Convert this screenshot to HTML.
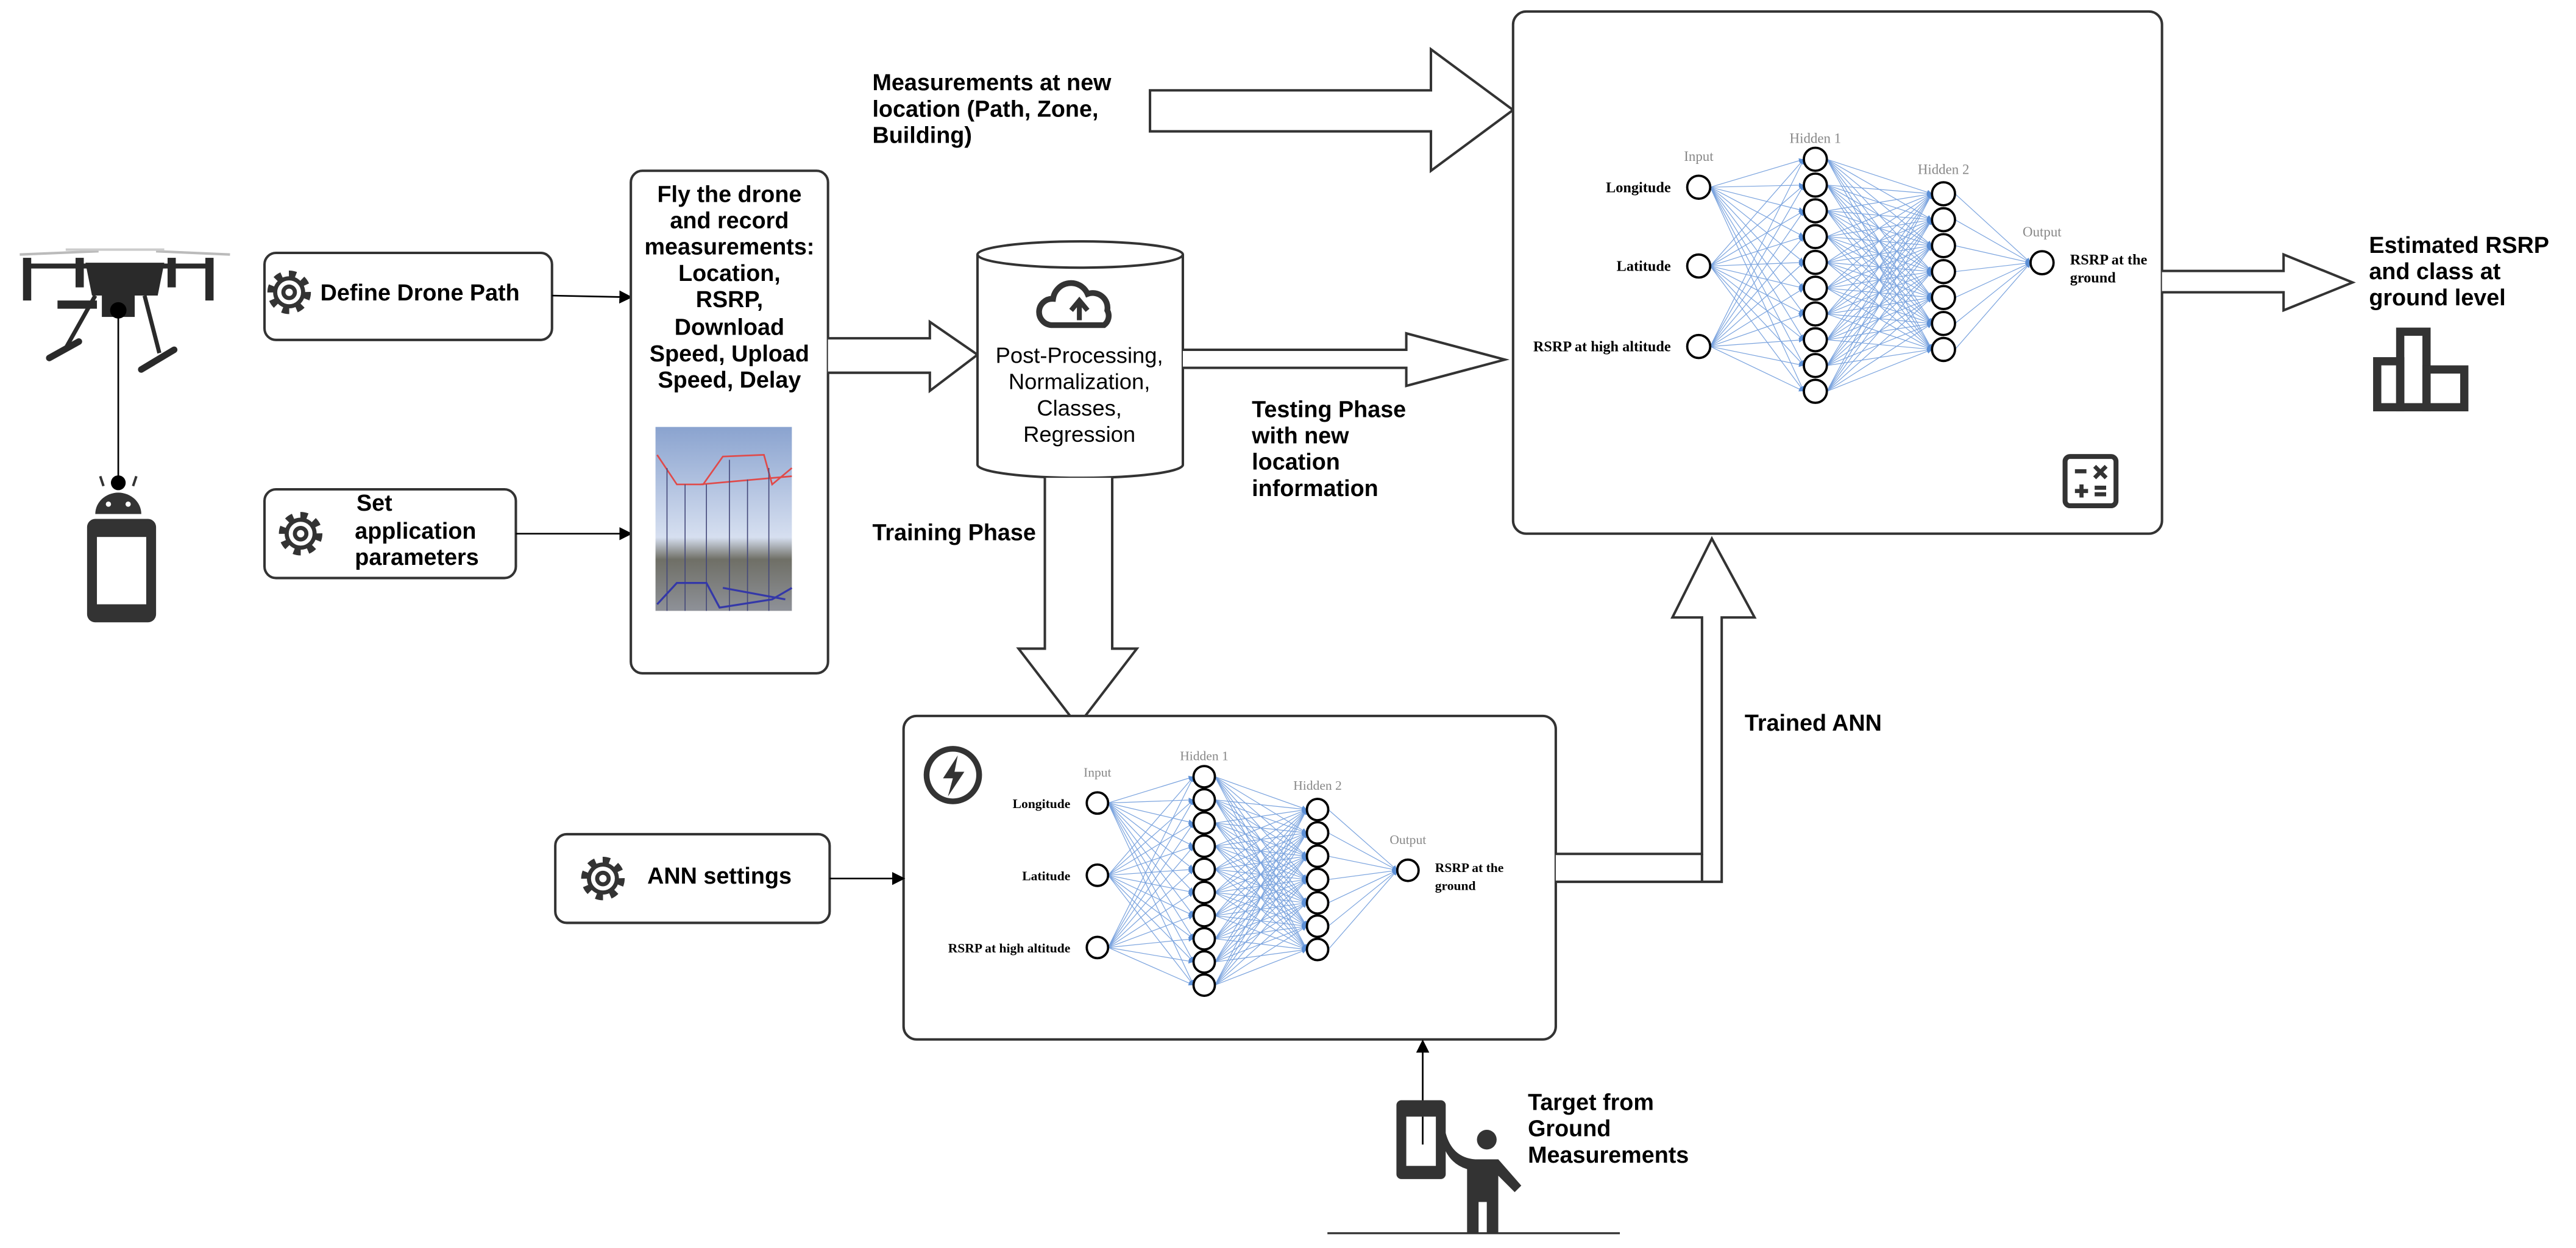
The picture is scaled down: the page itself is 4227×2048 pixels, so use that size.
<!DOCTYPE html>
<html><head><meta charset="utf-8"><style>
html,body{margin:0;padding:0;background:#fff;}
svg{display:block;}
.b{font-family:"Liberation Sans",sans-serif;font-weight:bold;fill:#000;}
.n{font-family:"Liberation Sans",sans-serif;fill:#000;}
</style></head><body>
<svg id="svg" width="4227" height="2048" viewBox="0 0 1568 760" preserveAspectRatio="none" xmlns="http://www.w3.org/2000/svg">
<defs>
<marker id="ah" markerWidth="8" markerHeight="8" refX="7" refY="4" orient="auto" markerUnits="userSpaceOnUse"><path d="M0,0 L8,4 L0,8 z" fill="#000"/></marker>
<marker id="bh" markerWidth="3" markerHeight="3" refX="3" refY="1.5" orient="auto" markerUnits="userSpaceOnUse"><path d="M0,0 L3,1.5 L0,3 z" fill="#5b8fd6"/></marker>
<linearGradient id="sky" x1="0" y1="0" x2="0" y2="1"><stop offset="0" stop-color="#8aa3cf"/><stop offset="0.6" stop-color="#d6dff0"/><stop offset="0.72" stop-color="#6f6f66"/><stop offset="1" stop-color="#8e9198"/></linearGradient>
<g id="gear"><circle r="11" fill="none" stroke="#333" stroke-width="4.5" stroke-dasharray="4.2 4.4"/><circle r="8.5" fill="#fff" stroke="#333" stroke-width="2.5"/><circle r="3.5" fill="none" stroke="#333" stroke-width="2.5"/></g>
</defs>

<!-- drone -->
<g fill="#2a2a2a" stroke="#2a2a2a">
<line x1="12" y1="155" x2="60" y2="153" stroke="#bbb" stroke-width="1.5"/>
<line x1="95" y1="153" x2="140" y2="155" stroke="#bbb" stroke-width="1.5"/>
<line x1="40" y1="152" x2="100" y2="152" stroke="#ccc" stroke-width="1.5"/>
<rect x="14" y="157" width="5" height="26" stroke="none"/>
<rect x="125" y="157" width="5" height="26" stroke="none"/>
<rect x="46" y="157" width="5" height="18" stroke="none"/>
<rect x="102" y="157" width="5" height="18" stroke="none"/>
<line x1="16" y1="162" x2="128" y2="162" stroke-width="3"/>
<path d="M52,160 L100,160 L96,180 L56,180 z" stroke="none"/>
<rect x="62" y="178" width="20" height="15" stroke="none"/>
<rect x="35" y="183" width="24" height="5" stroke="none"/>
<line x1="58" y1="180" x2="40" y2="212" stroke-width="2.5"/>
<line x1="88" y1="180" x2="97" y2="215" stroke-width="2.5"/>
<line x1="30" y1="218" x2="48" y2="208" stroke-width="4" stroke-linecap="round"/>
<line x1="86" y1="225" x2="106" y2="213" stroke-width="4" stroke-linecap="round"/>
<circle cx="72" cy="189" r="5" stroke="none" fill="#000"/>
</g>
<line x1="72" y1="192" x2="72" y2="295" stroke="#000" stroke-width="1"/>
<!-- android phone -->
<circle cx="72" cy="294" r="4.5" fill="#000"/>
<path d="M58,313 a14,13 0 0 1 28,0 z" fill="#333"/>
<line x1="63" y1="296" x2="61" y2="290" stroke="#333" stroke-width="1.5"/>
<line x1="81" y1="296" x2="83" y2="290" stroke="#333" stroke-width="1.5"/>
<circle cx="66" cy="307" r="1.6" fill="#fff"/><circle cx="78" cy="307" r="1.6" fill="#fff"/>
<rect x="53" y="316" width="42" height="63" rx="5" fill="#333"/>
<rect x="59" y="327" width="30" height="41" fill="#fff"/>

<!-- Define Drone Path -->
<rect x="161" y="154" width="175" height="53" rx="7" fill="#fff" stroke="#333" stroke-width="1.5"/>
<use href="#gear" x="176" y="178"/>
<text x="195" y="183" class="b" font-size="14">Define Drone Path</text>
<line x1="336" y1="180" x2="384" y2="181" stroke="#000" stroke-width="1" marker-end="url(#ah)"/>

<!-- Set app params -->
<rect x="161" y="298" width="153" height="54" rx="7" fill="#fff" stroke="#333" stroke-width="1.5"/>
<use href="#gear" x="183" y="325"/>
<text class="b" font-size="14"><tspan x="217" y="311">Set</tspan><tspan x="216" y="328">application</tspan><tspan x="216" y="344">parameters</tspan></text>
<line x1="314" y1="325" x2="384" y2="325" stroke="#000" stroke-width="1" marker-end="url(#ah)"/>

<!-- Fly box -->
<rect x="384" y="104" width="120" height="306" rx="7" fill="#fff" stroke="#333" stroke-width="1.5"/>
<text class="b" font-size="14" text-anchor="middle"><tspan x="444" y="123">Fly the drone</tspan><tspan x="444" y="139">and record</tspan><tspan x="444" y="155">measurements:</tspan><tspan x="444" y="171">Location,</tspan><tspan x="444" y="187">RSRP,</tspan><tspan x="444" y="204">Download</tspan><tspan x="444" y="220">Speed, Upload</tspan><tspan x="444" y="236">Speed, Delay</tspan></text>
<rect x="399" y="260" width="83" height="112" fill="url(#sky)"/>
<g stroke="#e04a4a" stroke-width="1" fill="none"><path d="M400,277 L412,295 L428,295 L440,278 L465,277 L470,295 L482,285"/><path d="M426,295 L482,290"/></g>
<g stroke="#44487a" stroke-width="0.6"><line x1="406" y1="285" x2="406" y2="372"/><line x1="417" y1="295" x2="417" y2="372"/><line x1="430" y1="295" x2="430" y2="372"/><line x1="444" y1="280" x2="444" y2="372"/><line x1="455" y1="292" x2="455" y2="372"/><line x1="468" y1="285" x2="468" y2="372"/></g>
<g stroke="#3438a8" stroke-width="1.2" fill="none"><path d="M400,368 L412,355 L430,355 L438,370 L470,365 L482,358"/><path d="M440,358 L478,365"/></g>

<!-- Fly -> cylinder hollow arrow -->
<path d="M504,206 L566,206 L566,196 L595,216 L566,238 L566,227 L504,227" fill="#fff" stroke="#333" stroke-width="1.5"/>

<!-- Cylinder -->
<path d="M595,155 L595,283 A62.5,8 0 0 0 720,283 L720,155" fill="#fff" stroke="#333" stroke-width="1.5"/>
<ellipse cx="657.5" cy="155" rx="62.5" ry="8" fill="#fff" stroke="#333" stroke-width="1.5"/>
<path d="M640,198 a8,8 0 0 1 1,-16 a11,11 0 0 1 21,-3 a9,9 0 0 1 12,10 a7,7 0 0 1 -2,9 z" fill="#fff" stroke="#333" stroke-width="3.5"/>
<path d="M657,195 L657,184 M652,189 L657,183 L662,189" stroke="#333" stroke-width="3" fill="none"/>
<text class="n" font-size="13.5" text-anchor="middle"><tspan x="657" y="221">Post-Processing,</tspan><tspan x="657" y="237">Normalization,</tspan><tspan x="657" y="253">Classes,</tspan><tspan x="657" y="269">Regression</tspan></text>

<!-- cylinder -> NN hollow arrow -->
<path d="M720,213 L856,213 L856,203 L916,219 L856,235 L856,224 L720,224" fill="#fff" stroke="#333" stroke-width="1.5"/>
<text class="b" font-size="14"><tspan x="762" y="254">Testing Phase</tspan><tspan x="762" y="270">with new</tspan><tspan x="762" y="286">location</tspan><tspan x="762" y="302">information</tspan></text>

<!-- top hollow arrow -->
<text class="b" font-size="14"><tspan x="531" y="55">Measurements at new</tspan><tspan x="531" y="71">location (Path, Zone,</tspan><tspan x="531" y="87">Building)</tspan></text>
<path d="M700,55 L871,55 L871,30 L921,67 L871,104 L871,80 L700,80 z" fill="#fff" stroke="#333" stroke-width="1.5"/>

<!-- Top NN box -->
<rect x="921" y="7" width="395" height="318" rx="8" fill="#fff" stroke="#333" stroke-width="1.5"/>
<g id="nn1"></g>
<rect x="1257" y="278" width="31" height="30" rx="3" fill="none" stroke="#333" stroke-width="3"/>
<g stroke="#333" stroke-width="2.5"><line x1="1263" y1="287" x2="1270" y2="287"/><line x1="1275" y1="284" x2="1282" y2="291"/><line x1="1282" y1="284" x2="1275" y2="291"/><line x1="1263" y1="299" x2="1271" y2="299"/><line x1="1267" y1="295" x2="1267" y2="303"/><line x1="1275" y1="297" x2="1282" y2="297"/><line x1="1275" y1="301" x2="1282" y2="301"/></g>

<!-- output arrow -->
<path d="M1316,165 L1390,165 L1390,155 L1432,172 L1390,189 L1390,178 L1316,178" fill="#fff" stroke="#333" stroke-width="1.5"/>
<text class="b" font-size="14"><tspan x="1442" y="154">Estimated RSRP</tspan><tspan x="1442" y="170">and class at</tspan><tspan x="1442" y="186">ground level</tspan></text>
<g fill="none" stroke="#333" stroke-width="5"><rect x="1447" y="220" width="14" height="28"/><rect x="1461" y="202" width="16" height="46"/><rect x="1477" y="225" width="23" height="23"/></g>

<!-- training phase arrow -->
<text x="531" y="329" class="b" font-size="14">Training Phase</text>
<path d="M636,291 L636,395 L620,395 L656,442 L692,395 L677,395 L677,291" fill="#fff" stroke="#333" stroke-width="1.5"/>

<!-- Bottom NN box -->
<rect x="550" y="436" width="397" height="197" rx="8" fill="#fff" stroke="#333" stroke-width="1.5"/>
<circle cx="580" cy="472" r="16" fill="none" stroke="#333" stroke-width="3.5"/>
<path d="M583,460 L574,474 L580,474 L577,485 L587,470 L581,470 z" fill="#333"/>
<g id="nn2"></g>

<!-- ANN settings -->
<rect x="338" y="508" width="167" height="54" rx="7" fill="#fff" stroke="#333" stroke-width="1.5"/>
<use href="#gear" x="367" y="535"/>
<text x="394" y="538" class="b" font-size="14">ANN settings</text>
<line x1="505" y1="535" x2="550" y2="535" stroke="#000" stroke-width="1" marker-end="url(#ah)"/>

<!-- Trained ANN arrow -->
<path d="M947,520 L1036,520 L1036,376 L1018,376 L1042,328 L1068,376 L1048,376 L1048,537 L947,537" fill="#fff" stroke="#333" stroke-width="1.5"/>
<line x1="1036" y1="520" x2="1036" y2="537" stroke="#333" stroke-width="1.5"/>
<text x="1062" y="445" class="b" font-size="14">Trained ANN</text>

<!-- target -->
<line x1="866" y1="697" x2="866" y2="634" stroke="#000" stroke-width="1" marker-end="url(#ah)"/>
<rect x="850" y="670" width="30" height="48" rx="3" fill="#333"/>
<rect x="856" y="680" width="18" height="30" fill="#fff"/>
<line x1="866" y1="697" x2="866" y2="680" stroke="#000" stroke-width="1"/>
<circle cx="905" cy="694" r="6" fill="#333"/>
<path d="M880,690 Q884,705 898,706 L912,706 L926,722 L922,726 L912,716 L912,751 L905,751 L905,732 L900,732 L900,751 L893,751 L893,712 Q880,708 877,692 z" fill="#333"/>
<line x1="808" y1="751" x2="986" y2="751" stroke="#333" stroke-width="1.2"/>
<text class="b" font-size="14"><tspan x="930" y="676">Target from</tspan><tspan x="930" y="692">Ground</tspan><tspan x="930" y="708">Measurements</tspan></text>
</svg>
<script>
function nn(gid,o){
 var g=document.getElementById(gid),h="";
 function col(x,y0,n,sp){var a=[];for(var i=0;i<n;i++)a.push([x,y0+i*sp]);return a;}
 var L0=o.inp.map(function(y){return [o.x0,y]}),L1=col(o.x1,o.h1y,10,o.h1s),L2=col(o.x2,o.h2y,7,o.h2s),L3=[[o.x3,o.oy]];
 var r=o.r;
 [[L0,L1],[L1,L2],[L2,L3]].forEach(function(p){p[0].forEach(function(a){p[1].forEach(function(b){
  h+='<line x1="'+(a[0]+r)+'" y1="'+a[1]+'" x2="'+(b[0]-r)+'" y2="'+b[1]+'" stroke="#7aa3de" stroke-width="0.45" marker-end="url(#bh)"/>';});});});
 [L0,L1,L2,L3].forEach(function(L){L.forEach(function(a){h+='<circle cx="'+a[0]+'" cy="'+a[1]+'" r="'+r+'" fill="#fff" stroke="#000" stroke-width="1.4"/>';});});
 var f='font-family="Liberation Serif,serif"';
 h+='<text x="'+o.x0+'" y="'+(o.inp[0]-16)+'" '+f+' font-size="'+o.fs+'" fill="#888" text-anchor="middle">Input</text>';
 h+='<text x="'+o.x1+'" y="'+(o.h1y-10)+'" '+f+' font-size="'+o.fs+'" fill="#888" text-anchor="middle">Hidden 1</text>';
 h+='<text x="'+o.x2+'" y="'+(o.h2y-12)+'" '+f+' font-size="'+o.fs+'" fill="#888" text-anchor="middle">Hidden 2</text>';
 h+='<text x="'+o.x3+'" y="'+(o.oy-16)+'" '+f+' font-size="'+o.fs+'" fill="#888" text-anchor="middle">Output</text>';
 var names=["Longitude","Latitude","RSRP at high altitude"];
 names.forEach(function(nm,i){h+='<text x="'+(o.x0-r-10)+'" y="'+(o.inp[i]+3)+'" '+f+' font-size="'+o.fl+'" font-weight="bold" text-anchor="end">'+nm+'</text>';});
 h+='<text '+f+' font-size="'+o.fl+'" font-weight="bold"><tspan x="'+(o.x3+r+10)+'" y="'+(o.oy+1)+'">RSRP at the</tspan><tspan x="'+(o.x3+r+10)+'" y="'+(o.oy+12)+'">ground</tspan></text>';
 g.innerHTML=h;
}
nn("nn1",{x0:1034,inp:[114,162,211],x1:1105,h1y:97,h1s:15.7,x2:1183,h2y:118,h2s:15.8,x3:1243,oy:160,r:7,fs:8.5,fl:9});
nn("nn2",{x0:668,inp:[489,533,577],x1:733,h1y:473,h1s:14.1,x2:802,h2y:493,h2s:14.2,x3:857,oy:530,r:6.5,fs:8,fl:8});
</script>
</body></html>
